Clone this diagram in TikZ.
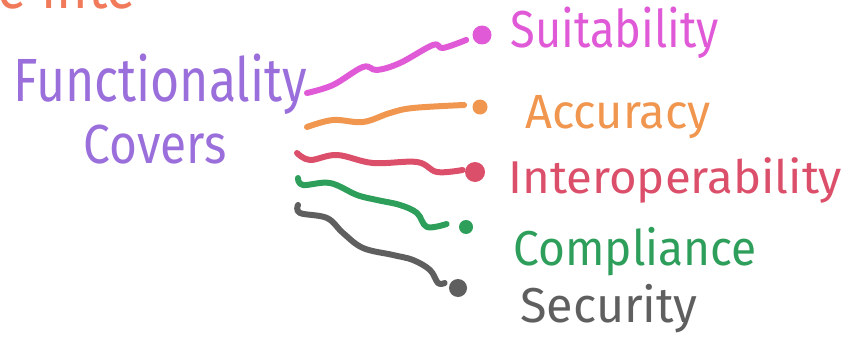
\documentclass[tikz,border=0pt]{standalone}
\usepackage{fontspec}
\setmainfont{Fira Sans}
\usepackage{xcolor}
\usetikzlibrary{calc}
\definecolor{lilac}{RGB}{155,111,219}
\definecolor{pinkish}{RGB}{224,90,216}
\definecolor{apricot}{RGB}{240,150,79}
\definecolor{rosered}{RGB}{220,79,106}
\definecolor{leaf}{RGB}{46,158,91}
\definecolor{slate}{RGB}{95,95,95}
\definecolor{coral}{RGB}{240,122,90}
\newcommand{\narrowtext}[2]{\scalebox{#1}[1]{#2}}

\begin{document}
\begin{tikzpicture}[x=0.5pt,y=-0.5pt]
  \tikzset{hand/.style={text=#1,anchor=base west,inner sep=0},
           blob/.style={circle,fill=#1,inner sep=0},
           wire/.style={draw=#1,line width=3pt,line cap=round,line join=round}}
  \useasboundingbox (0,0) rectangle (850,358);
  \node [hand=coral,font=\fontsize{30}{32}\selectfont] (head) at (-3,9) {\narrowtext{0.9}{e inte}};
  \node [hand=lilac,font=\fontsize{30.5}{32}\selectfont] (func) at (13,102) {\narrowtext{0.82}{Functionality}};
  \node [hand=lilac,font=\fontsize{27.5}{30}\selectfont] (cov) at (83,163) {\narrowtext{0.87}{Covers}};
  \node [hand=pinkish,font=\fontsize{26}{28}\selectfont] (suit) at (510,48) {\narrowtext{0.87}{Suitability}};
  \node [hand=apricot,font=\fontsize{24}{26}\selectfont] (acc) at (525,128) {\narrowtext{0.98}{Accuracy}};
  \node [hand=rosered,font=\fontsize{23}{25}\selectfont] (inter) at (508,193) {\narrowtext{1.03}{Interoperability}};
  \node [hand=leaf,font=\fontsize{24.5}{26}\selectfont] (comp) at (513,265) {\narrowtext{0.94}{Compliance}};
  \node [hand=slate,font=\fontsize{24.5}{26}\selectfont] (sec) at (520,322) {\narrowtext{0.99}{Security}};
  \node [blob=pinkish,minimum size=9.5pt] (sdot) at (482,35) {};
  \node [blob=apricot,minimum size=7.5pt] (adot) at (480,107) {};
  \node [blob=rosered,minimum size=10pt] (idot) at (475,172) {};
  \node [blob=leaf,minimum size=7pt] (cdot) at (466,227) {};
  \node [blob=slate,minimum size=9pt] (xdot) at (458,288) {};
  \coordinate (s1) at (307,93);
  \coordinate (s2) at (307,127);
  \coordinate (s3) at (297,153);
  \coordinate (s4) at (298,178);
  \coordinate (s5) at (298,205);
  \draw [wire=pinkish] plot [smooth,tension=0.6] coordinates {(s1) (333,85) (363,67) (377,70) (400,63) (433,45) (443,48) ([shift={(-6,5)}]sdot.west)};
  \draw [wire=apricot] plot [smooth,tension=0.6] coordinates {(s2) (333,120) (363,122) (390,113) (413,108) ([shift={(-8,-2)}]adot.west)};
  \draw [wire=rosered] plot [smooth,tension=0.6] coordinates {(s3) (310,160) (337,155) (373,163) (417,162) (437,172) ([shift={(-2,-2)}]idot.west)};
  \draw [wire=leaf] plot [smooth,tension=0.6] coordinates {(s4) (303,185) (330,183) (357,195) (377,200) (400,205) (417,213) (427,227) ([shift={(-12,-3)}]cdot.west)};
  \draw [wire=slate] plot [smooth,tension=0.6] coordinates {(s5) (300,213) (327,218) (343,233) (363,248) (393,255) (413,260) (430,270) (438,283) ([shift={(-4,-5)}]xdot.west)};
\end{tikzpicture}
\end{document}
